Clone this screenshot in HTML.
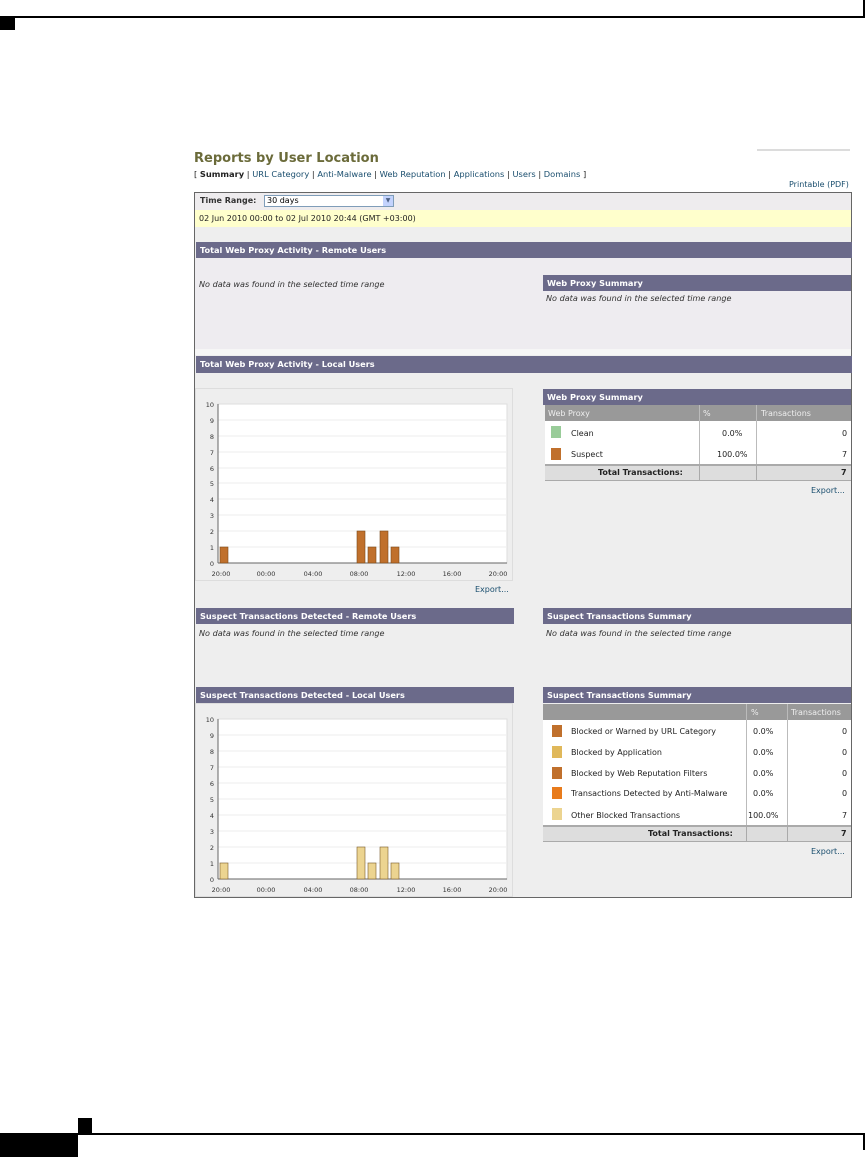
<!DOCTYPE html>
<html><head><meta charset="utf-8"><style>
body{margin:0;width:866px;height:1157px;position:relative;background:#fff;font-family:"DejaVu Sans","Liberation Sans",sans-serif;overflow:hidden}
.a{position:absolute}
.hd{position:absolute;background:#6b6a8a;color:#fff;font-weight:bold;font-size:8.2px;line-height:16px;padding-left:4px;box-sizing:border-box}
.it{position:absolute;font-style:italic;font-size:8.1px;color:#333}
.t{position:absolute;font-size:8px;color:#222}
.lnk{color:#1a4e6e}
</style></head><body>
<div class="a" style="left:0;top:16px;width:864px;height:2px;background:#000"></div>
<div class="a" style="left:863px;top:0;width:2px;height:18px;background:#000"></div>
<div class="a" style="left:0;top:18px;width:15px;height:12px;background:#000"></div>
<div class="a" style="left:0;top:1133px;width:864px;height:2px;background:#000"></div>
<div class="a" style="left:0;top:1133px;width:78px;height:24px;background:#000"></div>
<div class="a" style="left:78px;top:1118px;width:14px;height:16px;background:#000"></div>
<div class="a" style="left:863px;top:1133px;width:2px;height:17px;background:#000"></div>

<div class="a" style="left:757px;top:149px;width:93px;height:2px;background:#dcdcdc"></div>
<div class="a" style="left:194px;top:151px;font-size:13px;font-weight:bold;color:#6b6b3a">Reports by User Location</div>
<div class="t" style="left:194px;top:169px;font-size:8.3px">[ <b>Summary</b> | <span class="lnk">URL Category</span> | <span class="lnk">Anti-Malware</span> | <span class="lnk">Web Reputation</span> | <span class="lnk">Applications</span> | <span class="lnk">Users</span> | <span class="lnk">Domains</span> ]</div>
<div class="t lnk" style="left:789px;top:180px">Printable (PDF)</div>

<div class="a" style="left:194px;top:192px;width:658px;height:706px;background:#eeeeee;border:1px solid #666;box-sizing:border-box"></div>
<div class="a" style="left:195px;top:193px;width:656px;height:17px;background:#eeecee"></div>
<div class="t" style="left:200px;top:196px;font-weight:bold;color:#333">Time Range:</div>
<div class="a" style="left:264px;top:195px;width:130px;height:12px;background:#fff;border:1px solid #7f9db9;box-sizing:border-box;font-size:8px;line-height:10px;padding-left:2px">30 days</div>
<div class="a" style="left:383px;top:196px;width:10px;height:10px;background:#c3d3fd;font-size:6px;text-align:center;line-height:10px;color:#4d6185">▼</div>
<div class="a" style="left:195px;top:210px;width:656px;height:17px;background:#ffffcc"></div>
<div class="t" style="left:199px;top:214px">02 Jun 2010 00:00 to 02 Jul 2010 20:44 (GMT +03:00)</div>
<div class="hd" style="left:196px;top:242px;width:656px">Total Web Proxy Activity - Remote Users</div>
<div class="a" style="left:195px;top:258px;width:656px;height:91px;background:#eeecf0"></div>
<div class="it" style="left:199px;top:279px">No data was found in the selected time range</div>
<div class="hd" style="left:543px;top:275px;width:308px">Web Proxy Summary</div>
<div class="it" style="left:546px;top:293px">No data was found in the selected time range</div>
<div class="a" style="left:195px;top:349px;width:656px;height:6px;background:#f6f6f6"></div>
<div class="hd" style="left:196px;top:356px;width:656px;height:17px">Total Web Proxy Activity - Local Users</div>

<div class="a" style="left:195px;top:388px;width:318px;height:193px;border:1px solid #ddd;box-sizing:border-box"></div>
<div class="t lnk" style="left:475px;top:585px">Export...</div>

<div class="hd" style="left:543px;top:389px;width:308px">Web Proxy Summary</div>
<div class="a" style="left:545px;top:405px;width:306px;height:16px;background:#999"></div>
<div class="t" style="left:548px;top:409px;color:#eee">Web Proxy</div>
<div class="t" style="left:703px;top:409px;color:#eee">%</div>
<div class="t" style="left:761px;top:409px;color:#eee">Transactions</div>
<div class="a" style="left:545px;top:421px;width:306px;height:43px;background:#fff"></div>
<div class="a" style="left:699px;top:405px;width:1px;height:76px;background:#bbb"></div>
<div class="a" style="left:756px;top:405px;width:1px;height:76px;background:#bbb"></div>
<div class="a" style="left:551px;top:426px;width:10px;height:12px;background:#99cc99"></div>
<div class="a" style="left:551px;top:448px;width:10px;height:12px;background:#c0702c"></div>
<div class="t" style="left:571px;top:429px">Clean</div>
<div class="t" style="left:571px;top:450px">Suspect</div>
<div class="t" style="left:722px;top:429px">0.0%</div>
<div class="t" style="left:717px;top:450px">100.0%</div>
<div class="t" style="left:842px;top:429px">0</div>
<div class="t" style="left:842px;top:450px">7</div>
<div class="a" style="left:545px;top:464px;width:306px;height:17px;background:#dddddd;border-top:2px solid #aaa;border-bottom:1px solid #aaa;box-sizing:border-box"></div>
<div class="a" style="left:699px;top:464px;width:1px;height:17px;background:#aaa"></div>
<div class="a" style="left:756px;top:464px;width:1px;height:17px;background:#aaa"></div>
<div class="t" style="left:598px;top:468px;font-weight:bold">Total Transactions:</div>
<div class="t" style="left:841px;top:468px;font-weight:bold">7</div>
<div class="t lnk" style="left:811px;top:486px">Export...</div>

<div class="hd" style="left:196px;top:608px;width:318px">Suspect Transactions Detected - Remote Users</div>
<div class="it" style="left:199px;top:628px">No data was found in the selected time range</div>
<div class="hd" style="left:543px;top:608px;width:308px">Suspect Transactions Summary</div>
<div class="it" style="left:546px;top:628px">No data was found in the selected time range</div>

<div class="hd" style="left:196px;top:687px;width:318px">Suspect Transactions Detected - Local Users</div>
<div class="a" style="left:195px;top:703px;width:318px;height:194px;border:1px solid #ddd;box-sizing:border-box"></div>
<div class="hd" style="left:543px;top:687px;width:308px">Suspect Transactions Summary</div>
<div class="a" style="left:543px;top:704px;width:308px;height:16px;background:#999"></div>
<div class="t" style="left:751px;top:708px;color:#eee">%</div>
<div class="t" style="left:791px;top:708px;color:#eee">Transactions</div>
<div class="a" style="left:543px;top:720px;width:308px;height:105px;background:#fff"></div>
<div class="a" style="left:746px;top:704px;width:1px;height:137px;background:#bbb"></div>
<div class="a" style="left:787px;top:704px;width:1px;height:137px;background:#bbb"></div>
<div class="a" style="left:552px;top:725px;width:10px;height:12px;background:#c0702c"></div>
<div class="a" style="left:552px;top:746px;width:10px;height:12px;background:#e0b85a"></div>
<div class="a" style="left:552px;top:767px;width:10px;height:12px;background:#c0702c"></div>
<div class="a" style="left:552px;top:787px;width:10px;height:12px;background:#e87b1c"></div>
<div class="a" style="left:552px;top:808px;width:10px;height:12px;background:#ecd490"></div>
<div class="t" style="left:571px;top:727px">Blocked or Warned by URL Category</div>
<div class="t" style="left:571px;top:748px">Blocked by Application</div>
<div class="t" style="left:571px;top:769px">Blocked by Web Reputation Filters</div>
<div class="t" style="left:571px;top:789px">Transactions Detected by Anti-Malware</div>
<div class="t" style="left:571px;top:811px">Other Blocked Transactions</div>
<div class="t" style="left:753px;top:727px">0.0%</div>
<div class="t" style="left:753px;top:748px">0.0%</div>
<div class="t" style="left:753px;top:769px">0.0%</div>
<div class="t" style="left:753px;top:789px">0.0%</div>
<div class="t" style="left:748px;top:811px">100.0%</div>
<div class="t" style="left:842px;top:727px">0</div>
<div class="t" style="left:842px;top:748px">0</div>
<div class="t" style="left:842px;top:769px">0</div>
<div class="t" style="left:842px;top:789px">0</div>
<div class="t" style="left:842px;top:811px">7</div>
<div class="a" style="left:543px;top:825px;width:308px;height:17px;background:#dddddd;border-top:2px solid #aaa;border-bottom:1px solid #aaa;box-sizing:border-box"></div>
<div class="a" style="left:746px;top:825px;width:1px;height:17px;background:#aaa"></div>
<div class="a" style="left:787px;top:825px;width:1px;height:17px;background:#aaa"></div>
<div class="t" style="left:648px;top:829px;font-weight:bold">Total Transactions:</div>
<div class="t" style="left:841px;top:829px;font-weight:bold">7</div>
<div class="t lnk" style="left:811px;top:847px">Export...</div>

<svg class="a" style="left:0;top:0" width="866" height="1157" font-family="DejaVu Sans, Liberation Sans, sans-serif" font-size="6.5" fill="#333">
<g>
<rect x="218" y="404" width="289" height="159" fill="#fff" stroke="#ddd"/>
<g stroke="#eee"><line x1="218" x2="507" y1="420" y2="420"/><line x1="218" x2="507" y1="436" y2="436"/><line x1="218" x2="507" y1="452" y2="452"/><line x1="218" x2="507" y1="468" y2="468"/><line x1="218" x2="507" y1="483" y2="483"/><line x1="218" x2="507" y1="499" y2="499"/><line x1="218" x2="507" y1="515" y2="515"/><line x1="218" x2="507" y1="531" y2="531"/><line x1="218" x2="507" y1="547" y2="547"/></g>
<line x1="218" x2="218" y1="404" y2="563" stroke="#666"/>
<line x1="218" x2="507" y1="563" y2="563" stroke="#666"/>
<g text-anchor="end"><text x="214" y="407">10</text><text x="214" y="423">9</text><text x="214" y="439">8</text><text x="214" y="455">7</text><text x="214" y="471">6</text><text x="214" y="486">5</text><text x="214" y="502">4</text><text x="214" y="518">3</text><text x="214" y="534">2</text><text x="214" y="550">1</text><text x="214" y="566">0</text></g>
<g text-anchor="middle"><text x="221" y="576">20:00</text><text x="266" y="576">00:00</text><text x="313" y="576">04:00</text><text x="359" y="576">08:00</text><text x="406" y="576">12:00</text><text x="452" y="576">16:00</text><text x="498" y="576">20:00</text></g>
<g fill="#c0702c" stroke="#7a4a1a" stroke-width="0.6"><rect x="220" y="547" width="8" height="16"/><rect x="357" y="531" width="8" height="32"/><rect x="368" y="547" width="8" height="16"/><rect x="380" y="531" width="8" height="32"/><rect x="391" y="547" width="8" height="16"/></g>
</g>
<g>
<rect x="218" y="719" width="289" height="160" fill="#fff" stroke="#ddd"/>
<g stroke="#eee"><line x1="218" x2="507" y1="735" y2="735"/><line x1="218" x2="507" y1="751" y2="751"/><line x1="218" x2="507" y1="767" y2="767"/><line x1="218" x2="507" y1="783" y2="783"/><line x1="218" x2="507" y1="799" y2="799"/><line x1="218" x2="507" y1="815" y2="815"/><line x1="218" x2="507" y1="831" y2="831"/><line x1="218" x2="507" y1="847" y2="847"/><line x1="218" x2="507" y1="863" y2="863"/></g>
<line x1="218" x2="218" y1="719" y2="879" stroke="#666"/>
<line x1="218" x2="507" y1="879" y2="879" stroke="#666"/>
<g text-anchor="end"><text x="214" y="722">10</text><text x="214" y="738">9</text><text x="214" y="754">8</text><text x="214" y="770">7</text><text x="214" y="786">6</text><text x="214" y="802">5</text><text x="214" y="818">4</text><text x="214" y="834">3</text><text x="214" y="850">2</text><text x="214" y="866">1</text><text x="214" y="882">0</text></g>
<g text-anchor="middle"><text x="221" y="892">20:00</text><text x="266" y="892">00:00</text><text x="313" y="892">04:00</text><text x="359" y="892">08:00</text><text x="406" y="892">12:00</text><text x="452" y="892">16:00</text><text x="498" y="892">20:00</text></g>
<g fill="#ecd490" stroke="#7a5a2a" stroke-width="0.6"><rect x="220" y="863" width="8" height="16"/><rect x="357" y="847" width="8" height="32"/><rect x="368" y="863" width="8" height="16"/><rect x="380" y="847" width="8" height="32"/><rect x="391" y="863" width="8" height="16"/></g>
</g>
</svg>
</body></html>
